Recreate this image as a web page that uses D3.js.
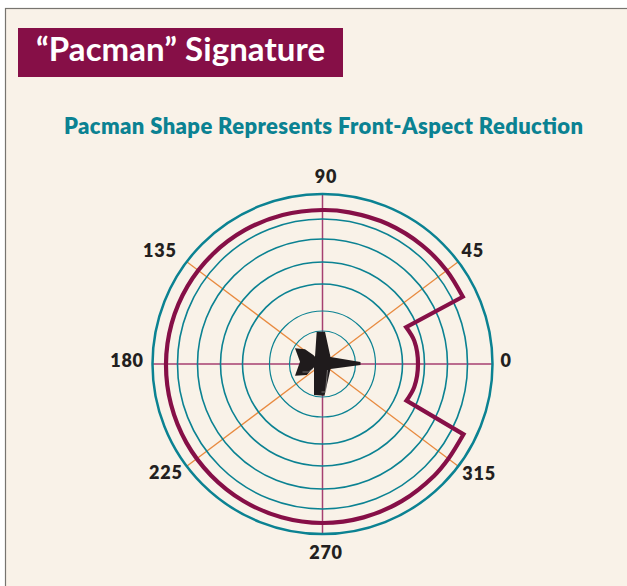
<!DOCTYPE html>
<html>
<head>
<meta charset="utf-8">
<script src="https://cdn.jsdelivr.net/npm/d3@7/dist/d3.min.js"></script>
<style>
  html, body { margin: 0; padding: 0; background: #fff; }
  svg { display: block; }
  text { font-family: Lato, "Open Sans", sans-serif; font-weight: 700; }
</style>
</head>
<body>
<svg id="chart" width="627" height="586"></svg>
<script>
// Ring radii and the signature. Rings carry no numbers in
// the source, so the radial unit is just "outer ring = 170".
const ringValues = [33, 53, 80, 102, 125, 145, 170];
const mainAxes = [0, 90, 180, 270];
const orangeAxes = [37, 143, 217, 323];

// Printed labels, and the spoke each one sits on (the 45s are drawn at ~37 deg).
const tickLabels = ["0", "45", "90", "135", "180", "225", "270", "315"];
const tickAngles = [0, 37, 90, 143, 180, 217, 270, 323];

const outerAngles = [25.6, 37, 50, 65, 80, 90, 105, 120, 135, 150, 165, 180, 195, 210, 225, 240, 255, 270, 285, 300, 315, 323, 333.5];
const outerValues = [155.6, 155.4, 155, 154.5, 154, 154, 154.3, 154.8, 155.3, 155.8, 156.2, 156.5, 156.8, 157.2, 157.6, 158.2, 158.7, 159, 158.8, 158.4, 158, 157.6, 157.6];
const innerAngles = [336.4, 346, 360, 374, 383.7];
const innerValues = [91.6, 94.6, 95.5, 94.7, 91.4];

// Aircraft silhouette, relative to the plot centre. Drawing, not data.
const aircraft = [
  [38, -2], [38, 1], [8, 5], [2, 31.7], [-8.5, 31], [-8.5, 3.3], [-15.8, 11],
  [-27.5, 11.7], [-22.5, -2.3], [-27.5, -15.7], [-17.5, -14.7], [-9.2, -9],
  [-7.5, -7.3], [-5.8, -32.3], [2.5, -32.3], [8, -7]
];

const width = 627, height = 586;
const cx = 322.5, cy = 364;

const svg = d3.select("#chart");
const rScale = d3.scaleLinear().domain([0, 170]).range([0, 170]);
const outerR = rScale(170);

const TEAL = "#0b8292", MAROON = "#860f47", ORANGE = "#e88a3f", PLUM = "#a63f70", INK = "#231f20";

// Page panel with the grey rule on the top and left edges.
svg.append("rect").attr("x", 5.5).attr("y", 8.5).attr("width", width).attr("height", height)
  .attr("fill", "#f9f2e8").attr("stroke", "#77746f").attr("stroke-width", 1.2);

svg.append("rect").attr("x", 18).attr("y", 28).attr("width", 325).attr("height", 49).attr("fill", MAROON);
svg.append("text").attr("x", 36).attr("y", 61).attr("fill", "#fff")
  .attr("font-size", 33).attr("textLength", 289).attr("lengthAdjust", "spacing")
  .text("“Pacman” Signature");
svg.append("text").attr("x", 64).attr("y", 134).attr("fill", TEAL)
  .attr("font-size", 22).style("font-weight", 800).attr("textLength", 519).attr("lengthAdjust", "spacing")
  .text("Pacman Shape Represents Front-Aspect Reduction");

const plot = svg.append("g").attr("transform", `translate(${cx},${cy})`);
const rad = (deg) => deg * Math.PI / 180;

plot.append("g").selectAll("line").data(orangeAxes).join("line")
  .attr("x2", (d) => outerR * Math.cos(rad(d)))
  .attr("y2", (d) => -outerR * Math.sin(rad(d)))
  .attr("stroke", ORANGE).attr("stroke-width", 1.3);

plot.append("g").selectAll("line").data(mainAxes).join("line")
  .attr("x2", (d) => outerR * Math.cos(rad(d)))
  .attr("y2", (d) => -outerR * Math.sin(rad(d)))
  .attr("stroke", PLUM).attr("stroke-width", 1.5);

plot.append("g").selectAll("circle").data(ringValues).join("circle")
  .attr("r", (d) => rScale(d))
  .attr("fill", "none").attr("stroke", TEAL)
  .attr("stroke-width", (d) => d === 170 ? 2.5 : d < 60 ? 1.2 : 1.6);

// Outer arc and inner notch are smooth; the joins between them are straight.
const radial = d3.lineRadial()
  .angle((d) => rad(90 - d.a))
  .radius((d) => rScale(d.v))
  .curve(d3.curveCatmullRom);
const toPoints = (angles, values) => angles.map((a, i) => ({ a, v: values[i] }));
const outerPath = radial(toPoints(outerAngles, outerValues));
const innerPath = radial(toPoints(innerAngles, innerValues));

plot.append("path")
  .attr("d", outerPath + innerPath.replace("M", "L") + "Z")
  .attr("fill", "none").attr("stroke", MAROON).attr("stroke-width", 4.2)
  .attr("stroke-linejoin", "miter").attr("stroke-miterlimit", 6);

plot.append("path")
  .attr("d", d3.line()(aircraft) + "Z")
  .attr("fill", "#1f1b1c");
// The two pale highlights on the lower wing and tail.
plot.append("path")
  .attr("d", "M-1,28 L3,28 L5,6 M-20,8 L-14,8 L-10,5")
  .attr("fill", "none").attr("stroke", "#9a9693").attr("stroke-width", 0.7);

// Labels sit on a common radius, then hand-nudged to where the source set them.
const labelR = 188;
const nudgeX = [-4.5, 0, 3.5, -12.4, -7.5, -6.4, 3.5, 6.4];
const nudgeY = [-3, 0, 1, 0, -3, -5, 1, -4];
plot.append("g").selectAll("text").data(tickLabels).join("text")
  .attr("x", (d, i) => labelR * Math.cos(rad(tickAngles[i])) + nudgeX[i])
  .attr("y", (d, i) => -labelR * Math.sin(rad(tickAngles[i])) + nudgeY[i])
  .attr("dy", "0.36em")
  .attr("text-anchor", "middle")
  .attr("font-size", 18)
  .style("font-weight", 800)
  .attr("letter-spacing", 0.8)
  .attr("fill", INK)
  .text((d) => d);
</script>
</body>
</html>
